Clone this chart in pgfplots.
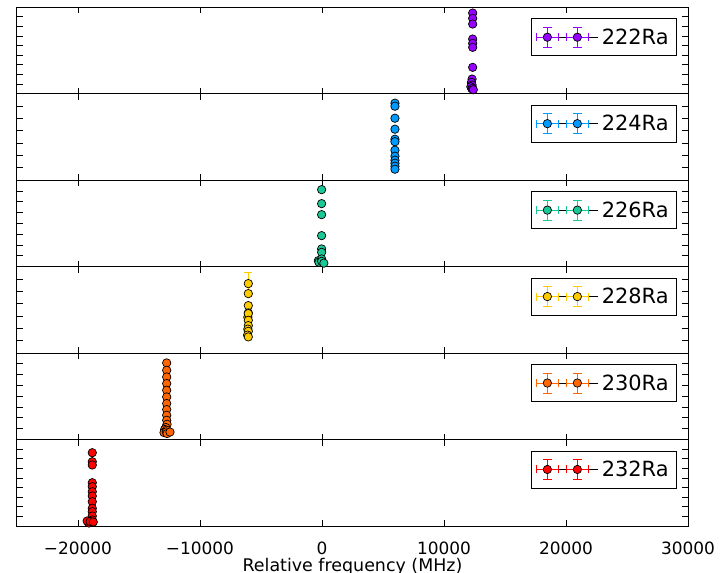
\documentclass[border=0pt]{standalone}
\usepackage{fontspec}
\setmainfont{DejaVu Sans}
\usepackage{pgfplots}
\pgfplotsset{compat=1.18}
\usepackage{pgfplotstable}

\definecolor{cA}{RGB}{150,0,255}
\definecolor{cB}{RGB}{0,155,255}
\definecolor{cC}{RGB}{25,200,150}
\definecolor{cD}{RGB}{255,204,0}
\definecolor{cE}{RGB}{255,102,0}
\definecolor{cF}{RGB}{255,0,0}

\newcommand\legone[2]{%
  \begin{scope}[xshift=#2]
  \draw[#1,line width=0.8bp] (0bp,0bp)--(22bp,0bp) (11bp,-10bp)--(11bp,10bp)
     (0bp,-4bp)--(0bp,4bp) (22bp,-4bp)--(22bp,4bp) (6.5bp,-10bp)--(15.5bp,-10bp) (6.5bp,10bp)--(15.5bp,10bp);
  \filldraw[fill=#1,draw=black,line width=0.7bp] (11bp,0bp) circle[radius=4.2bp];
  \end{scope}}
\newcommand\legerr[1]{\path (0bp,0bp)--(62bp,0bp);\legone{#1}{0bp}\legone{#1}{30bp}}

\pgfplotstableread{
x y ey
12350 80.7 1
12350 75.4 1
12350 69.7 1
12350 54.7 1
12350 50.4 1
12350 46.4 1
12350 26.4 1
12300 14.7 1
12250 11.4 1
12300 8.7 1
12200 7.0 1
12280 5.0 1
12350 5.4 1
12400 4.0 1
}\tA
\pgfplotstableread{
x y ey
5980 77.0 1
5980 74.0 1
5980 62.0 1
5980 51.0 1
5980 41.0 1
5980 38.5 1
5980 30.0 1
5980 24.0 1
5980 20.0 1
5980 17.0 1
5980 14.0 1
5980 11.0 1
}\tB
\pgfplotstableread{
x y ey
-30 77.0 1
-30 63.0 1
-30 52.0 1
-30 31.0 1
-30 17.7 1
-30 14.3 1
-300 6.0 1
-250 4.5 1
-30 7.7 1
-30 5.3 1
150 3.5 1
}\tC
\pgfplotstableread{
x y ey
-6040 69.5 11.3
-6040 59.5 1
-6040 47.5 1
-6040 40.2 1
-6080 36.0 1
-6040 39.5 1
-6040 32.8 1
-6040 27.5 1
-6080 24.0 1
-6040 21.8 1
-6100 18.0 1
-6040 16.2 1
}\tD
\pgfplotstableread{
x y ey
-12730 76.6 1
-12730 69.3 1
-12730 62.6 1
-12730 56.0 1
-12730 49.3 1
-12730 42.6 1
-12730 36.0 1
-12730 30.0 1
-12730 24.3 1
-12730 19.3 1
-12700 15.3 1
-12800 12.0 1
-12900 10.0 1
-12850 8.0 1
-12950 7.0 1
-12730 9.3 1
-12760 7.6 1
-12700 6.0 1
-12460 7.5 1
}\tE
\pgfplotstableread{
x y ey
-18830 73.3 1
-18830 64.3 1
-18830 61.0 1
-18830 43.3 1
-18830 39.3 1
-18830 34.3 1
-18830 30.0 1
-18830 24.3 1
-18830 17.7 1
-18830 14.3 1
-18830 10.0 1
-18830 6.0 1
-19180 4.0 1
-19100 3.0 1
-19250 5.0 1
-19000 4.5 1
-18750 4.0 1
}\tF

\pgfplotsset{
  panel/.style={
    scale only axis, width=671bp, height=86.45bp,
    xmin=-25000, xmax=30000, ymin=0, ymax=86.45,
    xtick={-20000,-10000,0,10000,20000,30000},
    xticklabels={}, yticklabels={}, scaled x ticks=false,
    axis line style={line width=1bp},
    major tick length=6bp, tick align=inside, tick pos=both,
    every tick/.style={black,line width=0.9bp},
    anchor=south west,
    legend style={at={(1,1)}, anchor=north east, xshift=-11bp, yshift=-11bp,
      draw=black, line width=0.8bp, font=\fontsize{21}{25}\selectfont,
      inner xsep=5bp, inner ysep=7bp, nodes={inner sep=3bp},
      cells={anchor=west}},
  },
  pts/.style={only marks, mark=*, mark size=4.2bp,
    mark options={fill=#1, draw=black, line width=0.7bp, solid},
    /pgfplots/error bars/y dir=both, /pgfplots/error bars/y explicit,
    /pgfplots/error bars/error bar style={color=#1, line width=0.8bp},
    /pgfplots/error bars/error mark options={rotate=90, mark size=4bp, line width=0.8bp, color=#1},
    /pgfplots/legend image code/.code={\legerr{#1}}},
}

\begin{document}
\begin{tikzpicture}
% 232Ra (bottom)
\begin{axis}[panel, at={(0,0)},
  ytick={9.61,19.21,28.82,38.42,48.03,57.63,67.24,76.84},
  xticklabels={−20000,−10000,0,10000,20000,30000},
  xticklabel style={font=\fontsize{17}{20}\selectfont, anchor=base, yshift=-28bp},
  xlabel={Relative frequency (MHz)},
  every axis x label/.style={at={(axis description cs:0.5,0)}, anchor=base, yshift=-45bp, font=\fontsize{17.5}{21}\selectfont}]
\addplot[pts=cF] table[x=x,y=y,y error=ey]{\tF};
\addlegendentry{232Ra}
\end{axis}
% 230Ra
\begin{axis}[panel, at={(0,86.45bp)},
  ytick={10.81,21.61,32.42,43.23,54.03,64.84,75.64}]
\addplot[pts=cE] table[x=x,y=y,y error=ey]{\tE};
\addlegendentry{230Ra}
\end{axis}
% 228Ra
\begin{axis}[panel, at={(0,172.9bp)},
  ytick={12.35,24.70,37.05,49.40,61.75,74.10}]
\addplot[pts=cD] table[x=x,y=y,y error=ey]{\tD};
\addlegendentry{228Ra}
\end{axis}
% 226Ra
\begin{axis}[panel, at={(0,259.35bp)},
  ytick={10.81,21.61,32.42,43.23,54.03,64.84,75.64}]
\addplot[pts=cC] table[x=x,y=y,y error=ey]{\tC};
\addlegendentry{226Ra}
\end{axis}
% 224Ra
\begin{axis}[panel, at={(0,345.8bp)},
  ytick={12.35,24.70,37.05,49.40,61.75,74.10}]
\addplot[pts=cB] table[x=x,y=y,y error=ey]{\tB};
\addlegendentry{224Ra}
\end{axis}
% 222Ra (top)
\begin{axis}[panel, at={(0,432.25bp)},
  ytick={9.61,19.21,28.82,38.42,48.03,57.63,67.24,76.84}]
\addplot[pts=cA] table[x=x,y=y,y error=ey]{\tA};
\addlegendentry{222Ra}
\end{axis}
\pgfresetboundingbox
\useasboundingbox (-17bp,-47bp) rectangle (703bp,526bp);
\end{tikzpicture}
\end{document}
